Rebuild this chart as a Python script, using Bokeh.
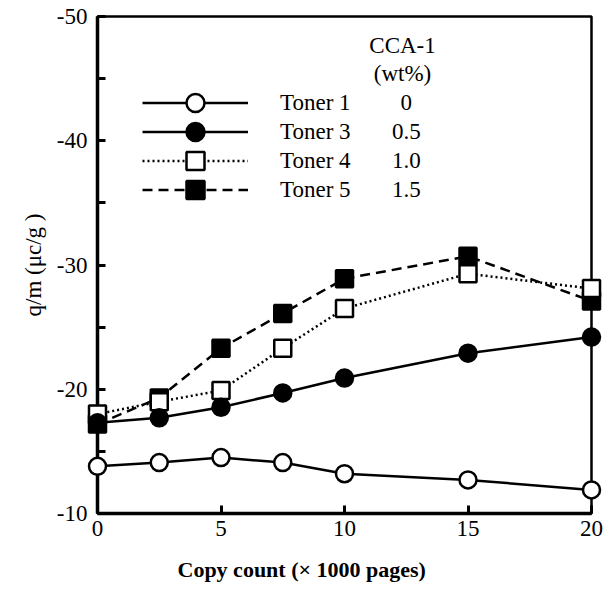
from bokeh.plotting import figure
from bokeh.models import Range1d, FixedTicker, Legend, LegendItem, Label, Title
from bokeh.embed import file_html
from bokeh.resources import INLINE

# ---- data ----
copies = [0, 2.5, 5, 7.5, 10, 15, 20]
toner1 = [-13.8, -14.1, -14.5, -14.1, -13.2, -12.7, -11.9]
toner3 = [-17.3, -17.7, -18.55, -19.7, -20.9, -22.9, -24.2]
toner4 = [-18.0, -19.0, -19.9, -23.3, -26.5, -29.3, -28.1]
toner5 = [-17.2, -19.3, -23.3, -26.1, -28.9, -30.7, -27.1]

series_names = ["Toner 1", "Toner 3", "Toner 4", "Toner 5"]
cca_wt = ["0", "0.5", "1.0", "1.5"]

x_ticks = [0, 5, 10, 15, 20]
x_tick_labels = ["0", "5", "10", "15", "20"]
y_ticks = [-50, -40, -30, -20, -10]
y_minor_ticks = [-45, -35, -25, -15]
y_tick_labels = ["-50", "-40", "-30", "-20", "-10"]

SERIF = "Liberation Serif"

p = figure(width=613, height=598, output_backend="svg", toolbar_location=None,
           x_range=Range1d(0, 20), y_range=Range1d(-10, -50),
           min_border_left=97, min_border_right=22, min_border_top=16,
           min_border_bottom=85)
p.xgrid.visible = False
p.ygrid.visible = False
p.outline_line_color = "black"
p.outline_line_width = 2.5
p.background_fill_color = "white"
p.border_fill_color = "white"

# axes
for ax in (p.xaxis[0], p.yaxis[0]):
    ax.axis_line_width = 3.5
    ax.axis_line_color = "black"
    ax.major_tick_in = 8
    ax.major_tick_out = 0
    ax.minor_tick_in = 8
    ax.minor_tick_out = 0
    ax.major_tick_line_width = 3
    ax.minor_tick_line_width = 3
    ax.major_label_text_font = SERIF
    ax.major_label_text_font_size = "23px"
    ax.major_label_text_color = "black"

p.xaxis[0].ticker = FixedTicker(ticks=x_ticks, minor_ticks=[])
p.xaxis[0].major_label_overrides = {t: l for t, l in zip(x_ticks, x_tick_labels)}
p.xaxis[0].major_label_standoff = 7

p.yaxis[0].ticker = FixedTicker(ticks=y_ticks, minor_ticks=y_minor_ticks)
p.yaxis[0].major_label_overrides = {t: l for t, l in zip(y_ticks, y_tick_labels)}
p.yaxis[0].major_label_standoff = 10
p.yaxis[0].axis_label = "q/m (\u03bcc/g )"
p.yaxis[0].axis_label_text_font = SERIF
p.yaxis[0].axis_label_text_font_size = "23px"
p.yaxis[0].axis_label_text_font_style = "normal"
p.yaxis[0].axis_label_text_color = "black"
p.yaxis[0].axis_label_standoff = 8

# series (drawn: toner5, toner4, toner3, toner1)
LW = 2.5
l5 = p.line(copies, toner5, line_color="black", line_width=LW, line_dash="10 6")
m5 = p.scatter(copies, toner5, marker="square", size=17, fill_color="black",
               line_color="black", line_width=LW)
l4 = p.line(copies, toner4, line_color="black", line_width=LW, line_dash="2 3")
m4 = p.scatter(copies, toner4, marker="square", size=17, fill_color="white",
               line_color="black", line_width=LW)
l3 = p.line(copies, toner3, line_color="black", line_width=LW)
m3 = p.scatter(copies, toner3, marker="circle", size=17, fill_color="black",
               line_color="black", line_width=LW)
l1 = p.line(copies, toner1, line_color="black", line_width=LW)
m1 = p.scatter(copies, toner1, marker="circle", size=17, fill_color="white",
               line_color="black", line_width=LW)
for r in (l5, m5, l4, m4, l3, m3, l1, m1):
    r.level = "overlay"

# one legend per row so rows can sit closer than the glyph height
legend_rows = [(series_names[0], [l1, m1]), (series_names[1], [l3, m3]),
               (series_names[2], [l4, m4]), (series_names[3], [l5, m5])]
for i, (name, rends) in enumerate(legend_rows):
    lg = Legend(items=[LegendItem(label=name, renderers=rends)],
                location=(45, 388 - 29 * i), glyph_width=106, glyph_height=45,
                padding=0, margin=0, label_standoff=32, label_text_font=SERIF,
                label_text_font_size="23px", label_text_color="black",
                background_fill_alpha=0, border_line_color=None)
    p.add_layout(lg)

# value column of the legend
row_y = [-43.05, -40.72, -38.39, -36.05]
for txt, yy in zip(cca_wt, row_y):
    p.add_layout(Label(x=12.5, y=yy, text=txt, text_font=SERIF,
                       text_font_size="23px", text_align="center",
                       text_baseline="middle", text_color="black"))
p.add_layout(Label(x=12.35, y=-47.67, text="CCA-1", text_font=SERIF,
                   text_font_size="23px", text_align="center",
                   text_baseline="middle", text_color="black"))
p.add_layout(Label(x=12.35, y=-45.41, text="(wt%)", text_font=SERIF,
                   text_font_size="23px", text_align="center",
                   text_baseline="middle", text_color="black"))

# x axis title
p.add_layout(Title(text="Copy count (\u00d7 1000 pages)", align="left",
                   vertical_align="bottom", offset=80, standoff=32,
                   text_font=SERIF, text_font_size="22px",
                   text_font_style="bold", text_color="black"), "below")

open("out.html", "w").write(file_html(p, INLINE))
